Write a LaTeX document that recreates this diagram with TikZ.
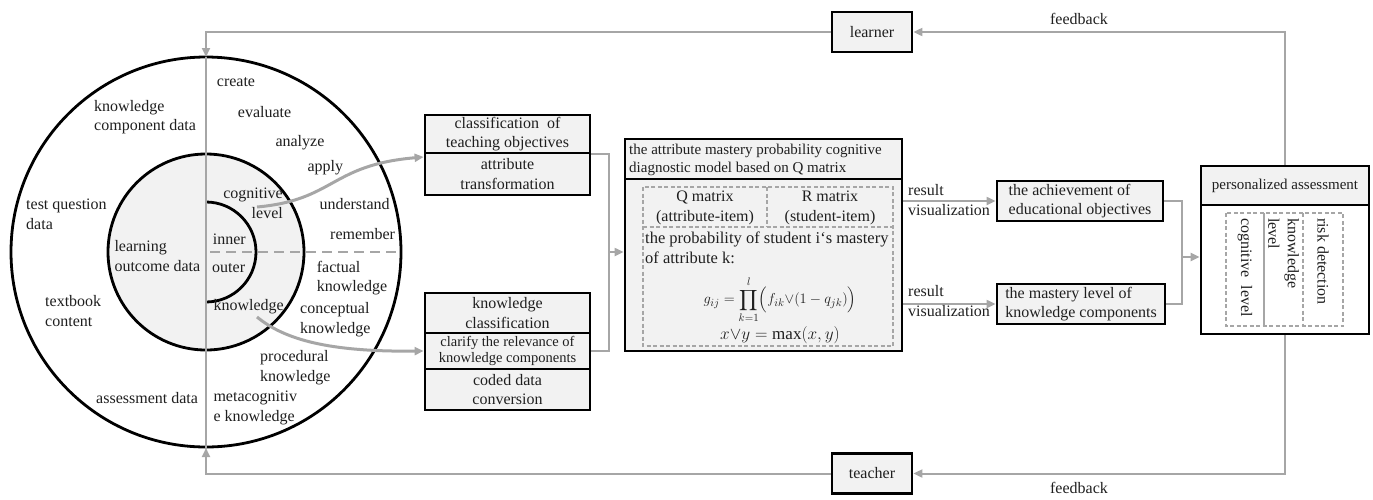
\documentclass[tikz,border=0pt]{standalone}
\usepackage{exscale}
\usepackage{fontspec}
\setmainfont{Liberation Serif}
\usetikzlibrary{arrows.meta,calc}
\definecolor{boxgray}{HTML}{F2F2F2}
\definecolor{lgray}{HTML}{A6A6A6}
\definecolor{txt}{HTML}{1F1F1F}
\begin{document}
\begin{tikzpicture}[x=1pt,y=-1pt,
 every node/.style={text=txt, font=\fontsize{16}{19.5}\selectfont, inner sep=0pt},
 lbl/.style={anchor=base west, align=left},
 box/.style={draw=black, line width=2.8pt, fill=boxgray, align=center, inner sep=0pt},
 gline/.style={draw=lgray, line width=2pt},
 garrow/.style={gline, -{Triangle[length=9pt,width=8pt]}},
 gdash/.style={draw=lgray, line width=1.2pt, dash pattern=on 4pt off 2.5pt},
]
\useasboundingbox (0,0) rectangle (1373,499);

% ---------- circles ----------
\draw[line width=2.8pt, fill=white] (206,252) circle[radius=195pt];
\draw[line width=2.8pt, fill=boxgray] (206,252) circle[radius=98pt];
\begin{scope}
 \clip (206,190) rectangle (270,315);
 \draw[line width=2.8pt] (206,252) circle[radius=50pt];
\end{scope}
\draw[draw=lgray, line width=2.5pt, dash pattern=on 10pt off 6pt] (210,252) -- (401,252);

% ---------- circle labels (base = last line) ----------
\node[lbl] (create) at (216.7,86) {create};
\node[lbl] (kcd) at (94,130.6) {knowledge\\component data};
\node[lbl] (eval) at (237.7,117) {evaluate};
\node[lbl] (anal) at (275.3,146) {analyze};
\node[lbl] (apply) at (307.3,171) {apply};
\node[anchor=base east, align=right] (cogl) at (283,218) {cognitive\\level};
\node[lbl] (und) at (319.3,209) {understand};
\node[lbl] (tqd) at (26,229) {test question\\data};
\node[lbl] (rem) at (330,239) {remember};
\node[lbl] (inner) at (212.7,244) {inner};
\node[lbl] (lod) at (114.3,271) {learning\\outcome data};
\node[lbl] (outer) at (212,272) {outer};
\node[lbl] (fk) at (316.7,291.5) {factual\\knowledge};
\node[lbl] (tb) at (45,326) {textbook\\content};
\node[lbl] (know) at (213.3,310) {knowledge};
\node[lbl] (ck) at (300,333) {conceptual\\knowledge};
\node[lbl] (pk) at (260,381) {procedural\\knowledge};
\node[lbl] (ad) at (96,403) {assessment data};
\node[lbl] (mk) at (213.3,421) {metacognitiv\\e knowledge};

% ---------- learner / teacher ----------
\node[box, minimum width=80pt, minimum height=40pt] (learner) at (872,32) {learner};
\node[box, minimum width=80pt, minimum height=40pt] (teacher) at (872,473.5) {teacher};
\coordinate (ctop) at (206,57);
\coordinate (cbot) at (206,448);
\draw[gline] (ctop) -- (cbot);
\draw[garrow] (learner.west) -| (ctop);
\draw[garrow] (teacher.west) -| (cbot);

% ---------- left boxes ----------
\node[box, minimum width=165pt, minimum height=38pt] (cto) at (507.5,134) {classification\ \ of\\teaching objectives};
\node[box, minimum width=165pt, minimum height=42pt] (atr) at (507.5,174) {attribute\\transformation};
\node[box, minimum width=165pt, minimum height=40pt] (kcl) at (507.5,313) {knowledge\\classification};
\node[box, minimum width=165pt, minimum height=36pt, font=\fontsize{14.5}{16.5}\selectfont] (clr) at (507.5,351) {clarify the relevance of\\knowledge components};
\node[box, minimum width=165pt, minimum height=41pt] (cdc) at (507.5,389.5) {coded data\\conversion};

\coordinate (c1) at (257,207);
\coordinate (c2) at (257,317);
\draw[garrow, line width=3pt] (c1) .. controls (335,200) and (330,165) .. (atr.west |- 0,157);
\draw[garrow, line width=3pt] (c2) .. controls (285,340) and (330,352) .. (clr.west);

% ---------- central model ----------
\node[box, minimum width=277pt, minimum height=172pt] (cm) at (763.5,265) {};
\node[box, minimum width=277pt, minimum height=40pt] (cmh) at (763.5,159) {};
\node[anchor=west, align=left, font=\fontsize{15}{18}\selectfont] (cmht) at (629,160) {the attribute mastery probability cognitive\\diagnostic model based on Q matrix};
\draw[gdash] (643,187) rectangle (893,346);
\draw[gdash] (643,227) -- (893,227);
\draw[gdash] (767,187) -- (767,227);
\node[align=center] (qm) at (705,208) {Q matrix\\(attribute-item)};
\node[align=center] (rm) at (830,208) {R matrix\\(student-item)};
\node[anchor=west, align=left, font=\fontsize{16.5}{20}\selectfont] (prob) at (645,248) {the probability of student i‘s mastery\\of attribute k:};
\node[font=\fontsize{15}{18}\selectfont] (form) at (780,300) {$\displaystyle g_{ij}=\prod_{k=1}^{l}\Bigl(f_{ik}{\vee}(1-q_{jk})\Bigr)$};
\node[font=\fontsize{17}{20}\selectfont] (maxf) at (780,335.5) {$x{\vee}y=\max(x,y)$};

\coordinate (j1) at (609,252);
\draw[gline] (cto.south east) -- (j1 |- cto.south east) |- (clr.east);
\draw[garrow] (j1) -- (cm.west |- j1);

% ---------- results ----------
\node[box, minimum width=166pt, minimum height=40pt, align=left] (ach) at (1080,201) {the achievement of\\educational objectives};
\node[box, minimum width=168pt, minimum height=40pt, align=left] (mas) at (1081,304) {the mastery level of\\knowledge components};
\draw[garrow] (cm.east |- ach.west) -- (ach.west);
\draw[garrow] (cm.east |- mas.west) -- (mas.west);
\node[anchor=west, align=left] (rv1) at (908,200) {result\\visualization};
\node[anchor=west, align=left] (rv2) at (908,301) {result\\visualization};

% ---------- personalized assessment ----------
\node[draw=black, line width=2.8pt, fill=white, minimum width=168pt, minimum height=168pt] (pa) at (1285,250) {};
\node[box, minimum width=168pt, minimum height=39pt, font=\fontsize{15}{18}\selectfont] (pah) at (1285,185.5) {personalized assessment};
\draw[gdash] (1226,213) rectangle (1343,326);
\draw[draw=lgray, line width=1.2pt] (1264,213) -- (1264,326);
\draw[gdash] (1303,213) -- (1303,326);
\node[anchor=west, rotate=-90] (cogv) at (1245,218) {cognitive\ \ level};
\node[anchor=west, rotate=-90, align=left] (knov) at (1283.5,218) {knowledge\\level};
\node[anchor=west, rotate=-90] (riskv) at (1323,218) {risk detection};

\coordinate (j2) at (1182,257);
\draw[gline] (ach.east) -- (j2 |- ach.east) |- (mas.east);
\draw[garrow, line width=2.5pt] (j2) -- (pa.west |- j2);

% ---------- feedback ----------
\draw[garrow] (pa.north) |- (learner.east);
\draw[garrow] (pa.south) |- (teacher.east);
\node (fb1) at (1079,19) {feedback};
\node (fb2) at (1079,488) {feedback};
\end{tikzpicture}
\end{document}
